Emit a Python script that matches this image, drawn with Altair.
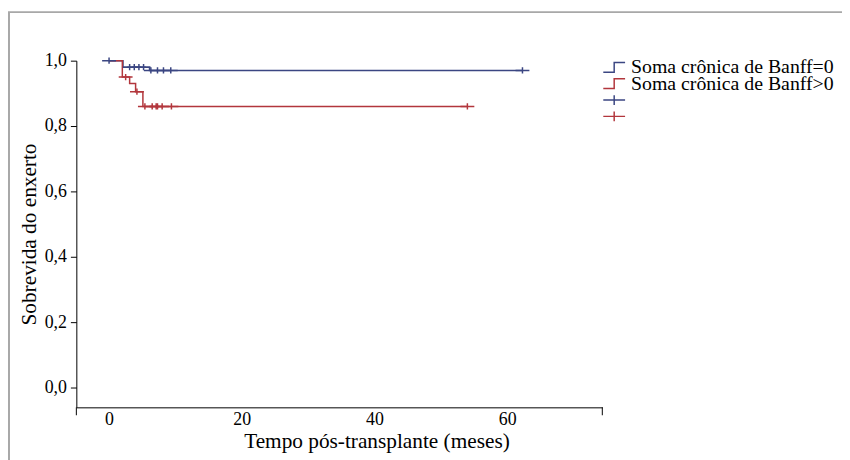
import altair as alt
import pandas as pd

# ---- data ----
grupos = ["Soma crônica de Banff=0", "Soma crônica de Banff>0"]

blue_times = [0, 2.1, 6.1, 62.3]
blue_surv = [1.0, 0.98, 0.97, 0.97]
red_times = [0, 2.0, 3.1, 4.0, 5.1, 54.0]
red_surv = [1.0, 0.95, 0.93, 0.905, 0.86, 0.86]

blue_cens_t = [0, 3.1, 3.8, 4.5, 5.2, 6.3, 7.3, 8.2, 9.3, 62.3]
blue_cens_s = [1.0, 0.98, 0.98, 0.98, 0.98, 0.97, 0.97, 0.97, 0.97, 0.97]
red_cens_t = [2.5, 4.2, 5.4, 6.5, 7.1, 7.3, 8.0, 9.4, 54.0]
red_cens_s = [0.95, 0.905, 0.86, 0.86, 0.86, 0.86, 0.86, 0.86, 0.86]

x_ticks = [0, 20, 40, 60]
y_ticks = [0.0, 0.2, 0.4, 0.6, 0.8, 1.0]
XMIN, XMAX = -4.93, 74.33
YMIN, YMAX = -0.0606, 1.0

BLUE = "#3b4682"
RED = "#b2363c"
FONT = "Liberation Serif"

STEP = "M-1,0.45H0V-0.45H1"
PLUS = "M-1,0H1M0,-0.45V0.45"

lines = pd.DataFrame({
    "t": blue_times + red_times,
    "s": blue_surv + red_surv,
    "grupo": [grupos[0]] * len(blue_times) + [grupos[1]] * len(red_times),
})
cens = pd.DataFrame({
    "t": blue_cens_t + red_cens_t,
    "s": blue_cens_s + red_cens_s,
    "serie": ["c0"] * len(blue_cens_t) + ["c1"] * len(red_cens_t),
})

W, H = 531, 350

xscale = alt.Scale(domain=[XMIN, XMAX], nice=False, zero=False)
yscale = alt.Scale(domain=[YMIN, YMAX], nice=False, zero=False)

xaxis = alt.Axis(values=x_ticks, ticks=False, tickSize=0, grid=False, labelPadding=3,
                 labelFontSize=18, labelFont=FONT, labelColor="black",
                 domainColor="black", domainWidth=1,
                 title="Tempo pós-transplante (meses)", titleFont=FONT, titleFontSize=21.5,
                 titleFontWeight="normal", titleColor="black",
                 titleX=303, titleY=35, titleBaseline="middle", titleAlign="center")
yaxis = alt.Axis(values=y_ticks, tickSize=6, grid=False, labelPadding=4,
                 labelFontSize=18, labelFont=FONT, labelColor="black",
                 labelExpr="replace(format(datum.value, '.1f'), '.', ',')",
                 domainColor="black", tickColor="black", domainWidth=1, tickWidth=1,
                 title="Sobrevida do enxerto", titleFont=FONT, titleFontSize=21.5,
                 titleFontWeight="normal", titleColor="black",
                 titleX=-47, titleY=175, titleBaseline="middle", titleAlign="center", titleAngle=270)

frame = alt.Chart(pd.DataFrame({"a": [0]})).mark_rect(
    fillOpacity=0, stroke="#a8a8a8", strokeWidth=2
).encode(x=alt.value(-68), x2=alt.value(1200), y=alt.value(-49), y2=alt.value(1200))

line_layer = alt.Chart(lines).mark_line(interpolate="step-after", strokeWidth=1.5).encode(
    x=alt.X("t:Q", scale=xscale, axis=xaxis),
    y=alt.Y("s:Q", scale=yscale, axis=yaxis),
    color=alt.Color("grupo:N", scale=alt.Scale(domain=grupos, range=[BLUE, RED]), legend=None),
    detail="grupo:N",
)

leg_domain = grupos + ["c0", "c1"]
legend = alt.Legend(
    title=None, orient="none", legendX=531, legendY=-1, padding=0,
    labelFont=FONT, labelFontSize=20, labelColor="black", labelOffset=5, labelLimit=400,
    symbolSize=484, symbolStrokeWidth=1.5, rowPadding=-4.5, clipHeight=15.5, gridAlign="none",
    labelExpr="datum.label == 'c0' || datum.label == 'c1' ? '' : datum.label",
)
cens_layer = alt.Chart(cens).mark_point(filled=False, size=196, strokeWidth=1.5, opacity=1).encode(
    x=alt.X("t:Q", scale=xscale),
    y=alt.Y("s:Q", scale=yscale),
    color=alt.Color("serie:N", scale=alt.Scale(domain=leg_domain, range=[BLUE, RED, BLUE, RED]),
                    legend=legend),
    shape=alt.Shape("serie:N", scale=alt.Scale(domain=leg_domain, range=[STEP, STEP, PLUS, PLUS]),
                    legend=legend),
)

caps = alt.Chart(pd.DataFrame({"x": [XMIN, XMAX]})).mark_rule(color="black", strokeWidth=1).encode(
    x=alt.X("x:Q", scale=xscale), y=alt.value(H), y2=alt.value(H + 8)
)

chart = alt.layer(frame, line_layer, cens_layer, caps).resolve_scale(
    color="independent", shape="independent"
).properties(
    width=W, height=H,
    padding={"left": 69, "top": 51, "right": 242, "bottom": 51},
    autosize=alt.AutoSizeParams(type="none"),
    background="white",
).configure_view(stroke=None)

chart.save("out.html", embed_options={"renderer": "svg", "actions": False})
